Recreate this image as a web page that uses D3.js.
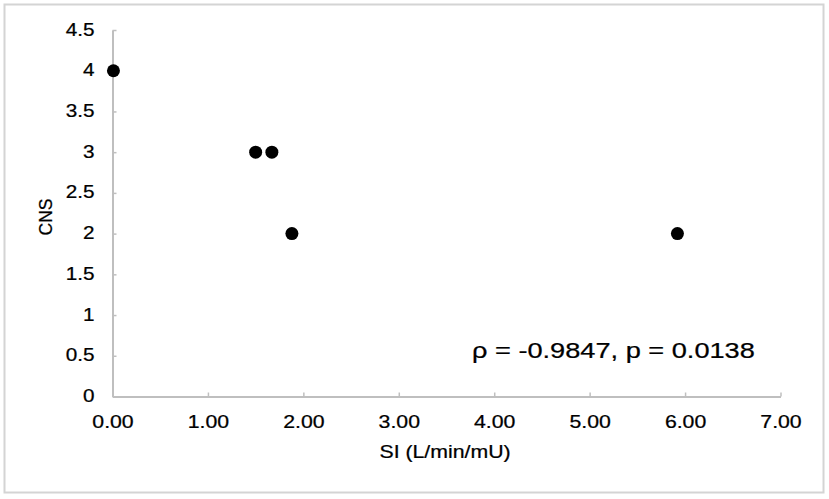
<!DOCTYPE html>
<html>
<head>
<meta charset="utf-8">
<script src="https://cdn.jsdelivr.net/npm/d3@7"></script>
<style>
  html, body { margin: 0; padding: 0; background: #fff; }
  svg { display: block; }
  text { font-family: "Liberation Sans", Arial, Helvetica, sans-serif; fill: #000; }
</style>
</head>
<body>
<svg id="chart" width="829" height="499"></svg>
<script>
// ---- data ----
const siValues = [0.01, 1.50, 1.67, 1.88, 5.92];
const cnsValues = [4, 3, 3, 2, 2];
const xTicks = [0, 1, 2, 3, 4, 5, 6, 7];
const yTicks = [0, 0.5, 1, 1.5, 2, 2.5, 3, 3.5, 4, 4.5];
const xTitle = "SI (L/min/mU)";
const yTitle = "CNS";
const annotation = "ρ = -0.9847, p = 0.0138";

const svg = d3.select("#chart");
const sx = 1.15; // horizontal text stretch seen in reference

// outer border
svg.append("rect")
  .attr("x", 4.5).attr("y", 4.5)
  .attr("width", 819).attr("height", 488)
  .attr("fill", "#fff")
  .attr("stroke", "#d4d4d4")
  .attr("stroke-width", 2);

const x = d3.scaleLinear().domain([0, 7]).range([112.5, 780.5]);
const y = d3.scaleLinear().domain([0, 4.5]).range([396.5, 30]);

const axisColor = "#bfbfbf";

// x axis (ticks inward = up)
const gx = svg.append("g").attr("transform", `translate(0,${y(0)})`)
  .call(d3.axisTop(x).tickValues(xTicks).tickSize(4).tickSizeOuter(0).tickFormat(d => d.toFixed(2)));
gx.select(".domain").attr("stroke", axisColor).attr("stroke-width", 2);
gx.selectAll(".tick line").attr("stroke", axisColor).attr("stroke-width", 1.5);
gx.selectAll(".tick text")
  .attr("x", null).attr("y", null).attr("dy", null)
  .attr("text-anchor", "middle")
  .attr("font-size", 18.5)
  .attr("stroke", "#000").attr("stroke-width", 0.25)
  .attr("transform", `translate(0,31.5) scale(${sx},1)`);

// y axis (ticks inward = right)
const gy = svg.append("g").attr("transform", `translate(${x(0)},0)`)
  .call(d3.axisRight(y).tickValues(yTicks).tickSize(4).tickSizeOuter(0).tickFormat(d => String(d)));
gy.select(".domain").attr("stroke", axisColor).attr("stroke-width", 2);
gy.selectAll(".tick line").attr("stroke", axisColor).attr("stroke-width", 1.5);
gy.selectAll(".tick text")
  .attr("x", null).attr("y", null).attr("dy", null)
  .attr("text-anchor", "end")
  .attr("font-size", 18)
  .attr("stroke", "#000").attr("stroke-width", 0.25)
  .attr("transform", `translate(-18,5) scale(${sx},1)`);

// axis titles
svg.append("text")
  .attr("text-anchor", "middle")
  .attr("font-size", 18.5)
  .attr("stroke", "#000").attr("stroke-width", 0.25)
  .attr("transform", `translate(445,458) scale(${sx},1)`)
  .text(xTitle);

svg.append("text")
  .attr("text-anchor", "middle")
  .attr("font-size", 17.5)
  .attr("stroke", "#000").attr("stroke-width", 0.25)
  .attr("transform", `translate(51.5,217) rotate(-90)`)
  .text(yTitle);

// points
svg.append("g").selectAll("circle")
  .data(siValues.map((v, i) => ({ si: v, cns: cnsValues[i] })))
  .join("circle")
  .attr("cx", d => x(d.si))
  .attr("cy", d => y(d.cns))
  .attr("r", 6.5)
  .attr("fill", "#000");

// annotation
svg.append("text")
  .attr("text-anchor", "start")
  .attr("font-size", 22)
  .attr("stroke", "#000").attr("stroke-width", 0.25)
  .attr("transform", `translate(472,358) scale(1.235,1)`)
  .text(annotation);
</script>
</body>
</html>
